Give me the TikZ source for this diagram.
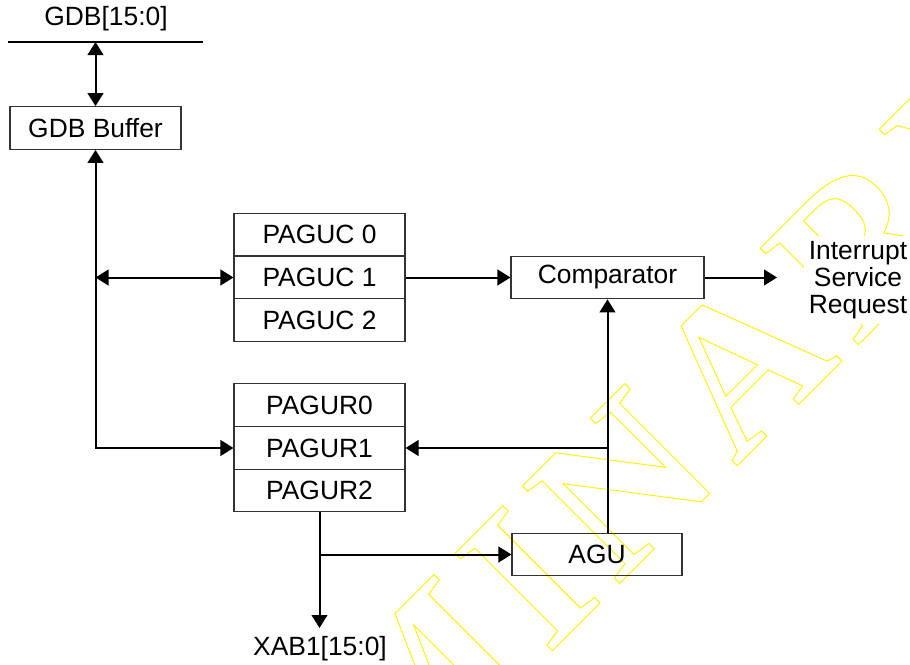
\documentclass[tikz,border=0pt]{standalone}
\usepackage{fontspec}
\setmainfont{Liberation Sans}
\newfontfamily\wmfont{Liberation Serif Bold}
\usetikzlibrary{arrows.meta,calc}
\newcommand{\wmgap}{\kern12.5pt}
\begin{document}
\begin{tikzpicture}[x=0.75pt,y=-0.75pt,
  txt/.style={font=\fontsize{19.8}{20}\selectfont, inner sep=0pt},
  blk/.style={txt, draw=black!80, line width=0.8pt, minimum width=128.25pt, minimum height=32pt},
  tip/.tip={Triangle[length=9.75pt,width=11.75pt]},
  conn/.style={line width=1.5pt, -tip},
  dconn/.style={line width=1.5pt, tip-tip},
  wm/.style={anchor=base, rotate=45, inner sep=0pt, text=yellow, font=\wmfont\fontsize{157.5}{157.5}\selectfont}]
\useasboundingbox (0,0) rectangle (910,664);
% watermark
\node[wm] (wmark) at (482,721) {\special{pdf:literal direct 1 Tr 0.7 w}P\wmgap R\wmgap E\wmgap L\wmgap I\wmgap M\wmgap I\wmgap N\wmgap A\wmgap R\wmgap Y\special{pdf:literal direct 0 Tr}};
% bus
\coordinate (busL) at (8,42);
\coordinate (busR) at (203,42);
\draw[line width=1.5pt] (busL) -- (busR);
\node[txt] (gdblbl) at (106,19) {GDB[15:0]};
% blocks
\node[blk] (gdb) at (95.5,128) {GDB Buffer};
\node[blk] (c0) at (319.5,234.5) {PAGUC 0};
\node[blk] (c1) at (319.5,277.5) {PAGUC 1};
\node[blk] (c2) at (319.5,320) {PAGUC 2};
\node[blk] (r0) at (319.5,405) {PAGUR0};
\node[blk] (r1) at (319.5,448) {PAGUR1};
\node[blk] (r2) at (319.5,490.5) {PAGUR2};
\node[blk, minimum width=144.75pt] (cmp) at (607.5,277.5) {Comparator};
\node[blk, minimum width=127.5pt] (agu) at (597,554.5) {AGU};
\node[txt, align=center, fill=white, inner sep=4pt] (isr) at (858,280) {Interrupt\\Service\\Request};
\node[txt] (xab) at (320,649) {XAB1[15:0]};
\coordinate (isrin) at (777,277.5);
\coordinate (xabin) at (319.5,628);
% connectors
\draw[dconn] (gdb.north) -- (gdb.north |- busL);
\draw[dconn] (gdb.south) -- (gdb.south |- r1.west) -- (r1.west);
\draw[dconn] (gdb.south |- c1.west) -- (c1.west);
\draw[conn] (c1.east) -- (cmp.west);
\draw[conn] (cmp.east) -- (isrin);
\draw[conn] (cmp.south |- agu.north) -- (cmp.south);
\draw[conn] (cmp.south |- r1.east) -- (r1.east);
\draw[conn] (r2.south) -- (xabin);
\draw[conn] (r2.south |- agu.west) -- (agu.west);
\end{tikzpicture}
\end{document}
